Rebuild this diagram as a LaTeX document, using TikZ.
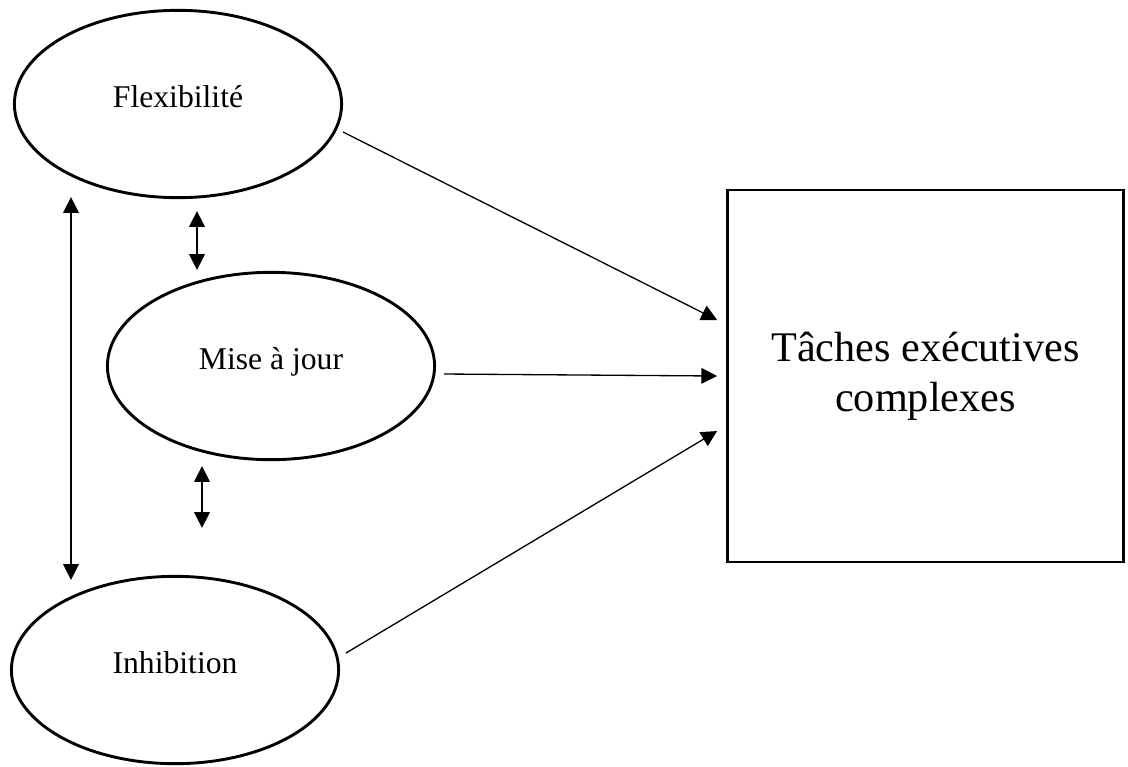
\documentclass[tikz,border=0pt]{standalone}
\usepackage{fontspec}
\setmainfont{Liberation Serif}
\usetikzlibrary{shapes.geometric,arrows.meta,calc}
\tikzset{>={Triangle[width=6pt,length=6pt]}}

\begin{document}
\begin{tikzpicture}[x=0.379pt,y=-0.379pt,
  fonction/.style={draw,ellipse,line width=1.1pt,minimum width=124pt,minimum height=71pt,
    inner sep=0pt,font=\fontsize{12}{14}\selectfont,text height=8pt,text depth=5pt},
  tache/.style={draw,rectangle,line width=1.1pt,minimum width=150pt,minimum height=141pt,
    inner sep=0pt,align=center,font=\fontsize{16}{19}\selectfont},
  lien/.style={->,line width=0.5pt},
  lien2/.style={<->,line width=0.5pt}]
\useasboundingbox (0,0) rectangle (1128,766);

% les trois fonctions
\node[fonction] (flex) at (178,104) {Flexibilité};
\node[fonction] (maj) at (271,366) {Mise à jour};
\node[fonction] (inhib) at (175,670) {Inhibition};

\node[tache] (taches) at (925.5,376) {Tâches exécutives\\complexes};

% liens entre fonctions
\draw[lien2] ($(flex.south)+(19,12)$) -- ($(maj.north)+(-74,-1)$);
\draw[lien2] ($(maj.south)+(-69,5)$) -- ($(inhib.north)+(27,-47)$);
\draw[lien2] ($(flex.south)+(-107,-2)$) -- ($(inhib.north)+(-104,5)$);

% vers les taches complexes
\draw[lien] ($(flex.east)+(0,28)$) -- ($(taches.west)+(-9,-56)$);
\draw[lien] ($(maj.east)+(8,8)$) -- ($(taches.west)+(-9,0)$);
\draw[lien] ($(inhib.east)+(6,-17)$) -- ($(taches.west)+(-9,55)$);
\end{tikzpicture}
\end{document}
